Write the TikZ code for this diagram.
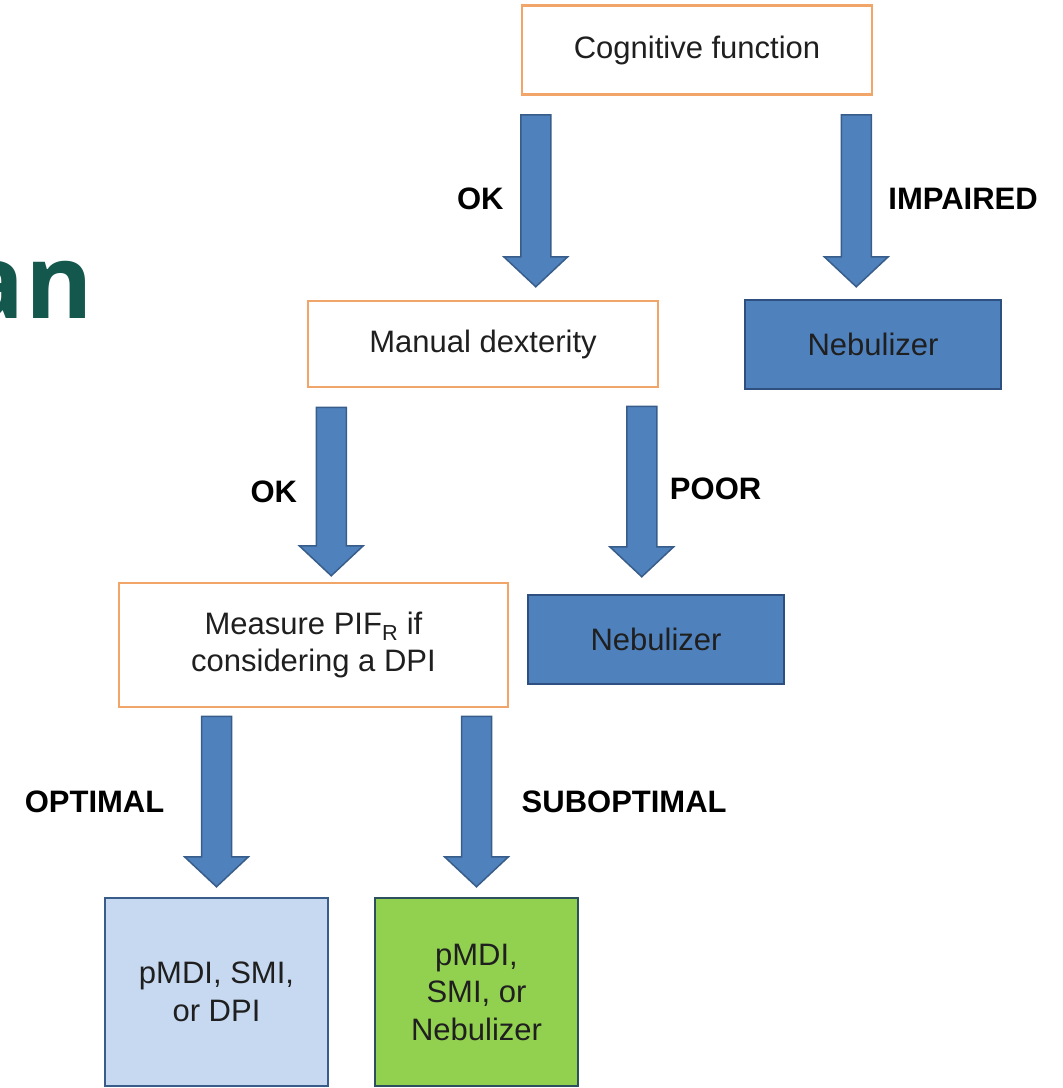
\documentclass[tikz,border=0pt]{standalone}
\usepackage{fontspec}
\setmainfont{Liberation Sans}
\newfontfamily\headfont{Open Sans}
\usetikzlibrary{calc}
\definecolor{boxorange}{RGB}{242,165,105}
\definecolor{arrowblue}{RGB}{79,129,189}
\definecolor{arrowedge}{RGB}{56,93,138}
\definecolor{nebedge}{RGB}{45,80,128}
\definecolor{paleblue}{RGB}{198,217,241}
\definecolor{leafgreen}{RGB}{146,208,80}
\definecolor{leafedge}{RGB}{45,80,95}
\definecolor{headteal}{RGB}{20,88,77}
\newcommand{\blockarrow}[2]{%
	\draw [arrowedge, fill=arrowblue, line width=1.5pt, line join=miter] ($(#1)+(-15,0)$) -- ($(#2)+(-15,-30)$) -- ($(#2)+(-32,-30)$) -- (#2) -- ($(#2)+(32,-30)$) -- ($(#2)+(15,-30)$) -- ($(#1)+(15,0)$) -- cycle;}
\begin{document}
\begin{tikzpicture}[x=1pt, y=-1pt]
			\tikzstyle{every node}+=[inner sep=0pt, font=\fontsize{31}{37.5}\selectfont, text=black!88]
			\tikzstyle{askbox}=[draw=boxorange, line width=2.5pt, fill=white, align=center]
			\tikzstyle{nebbox}=[draw=nebedge, line width=2.5pt, fill=arrowblue, align=center]
			\tikzstyle{devbox}=[line width=2.5pt, align=center]
			\tikzstyle{branch}=[font=\bfseries\fontsize{31}{37}\selectfont, text=black]
			\useasboundingbox (0,0) rectangle (1063,1088);
			\node (an) [anchor=base east, text=headteal, font=\headfont\bfseries\fontsize{103}{110}\selectfont] at (93,318) {an};
			\node (cog) [askbox, minimum width=350pt, minimum height=89pt] at (697,50) {Cognitive function};
			\node (man) [askbox, minimum width=350pt, minimum height=86pt] at (483,344) {Manual dexterity};
			\node (neb1) [nebbox, minimum width=256pt, minimum height=89pt] at (873,344.5) {Nebulizer};
			\node (meas) [askbox, minimum width=389pt, minimum height=124pt] at (313.5,645) {Measure PIF\textsubscript{R} if\\considering a DPI};
			\node (neb2) [nebbox, minimum width=256pt, minimum height=89pt] at (656,639.5) {Nebulizer};
			\node (lb) [devbox, draw=arrowedge, fill=paleblue, minimum width=223pt, minimum height=188pt] at (216.5,992) {pMDI, SMI,\\or DPI};
			\node (gr) [devbox, draw=leafedge, fill=leafgreen, minimum width=203pt, minimum height=188pt] at (476.5,992) {pMDI,\\SMI, or\\Nebulizer};
			\coordinate (a1s) at ($(cog.south west)+(15,19)$);
			\coordinate (a1e) at ($(man.north -| a1s)+(0,-13)$);
			\coordinate (a2s) at ($(cog.south east)+(-17,19)$);
			\coordinate (a2e) at ($(neb1.north -| a2s)+(0,-12)$);
			\coordinate (a3s) at ($(man.south west)+(24.5,19)$);
			\coordinate (a3e) at ($(meas.north -| a3s)+(0,-6)$);
			\coordinate (a4s) at ($(man.south east)+(-17.5,18)$);
			\coordinate (a4e) at ($(neb2.north -| a4s)+(0,-17)$);
			\coordinate (a5s) at ($(meas.south -| lb.north)+(0,8)$);
			\coordinate (a5e) at ($(lb.north)+(0,-10)$);
			\coordinate (a6s) at ($(meas.south -| gr.north)+(0,8)$);
			\coordinate (a6e) at ($(gr.north)+(0,-10)$);
			\blockarrow{a1s}{a1e}
			\blockarrow{a2s}{a2e}
			\blockarrow{a3s}{a3e}
			\blockarrow{a4s}{a4e}
			\blockarrow{a5s}{a5e}
			\blockarrow{a6s}{a6e}
			\node (okA) [branch, anchor=east] at ($(a1s)!0.5!(a1e)+(-32,-2)$) {OK};
			\node (impaired) [branch, anchor=west] at ($(a2s)!0.5!(a2e)+(32,-2)$) {IMPAIRED};
			\node (okB) [branch, anchor=east] at ($(a3s)!0.5!(a3e)+(-34,0)$) {OK};
			\node (poor) [branch, anchor=west] at ($(a4s)!0.5!(a4e)+(28,-3)$) {POOR};
			\node (optimal) [branch, anchor=east] at ($(a5s)!0.5!(a5e)+(-52,0)$) {OPTIMAL};
			\node (subopt) [branch, anchor=west] at ($(a6s)!0.5!(a6e)+(45,0)$) {SUBOPTIMAL};
\end{tikzpicture}
\end{document}
